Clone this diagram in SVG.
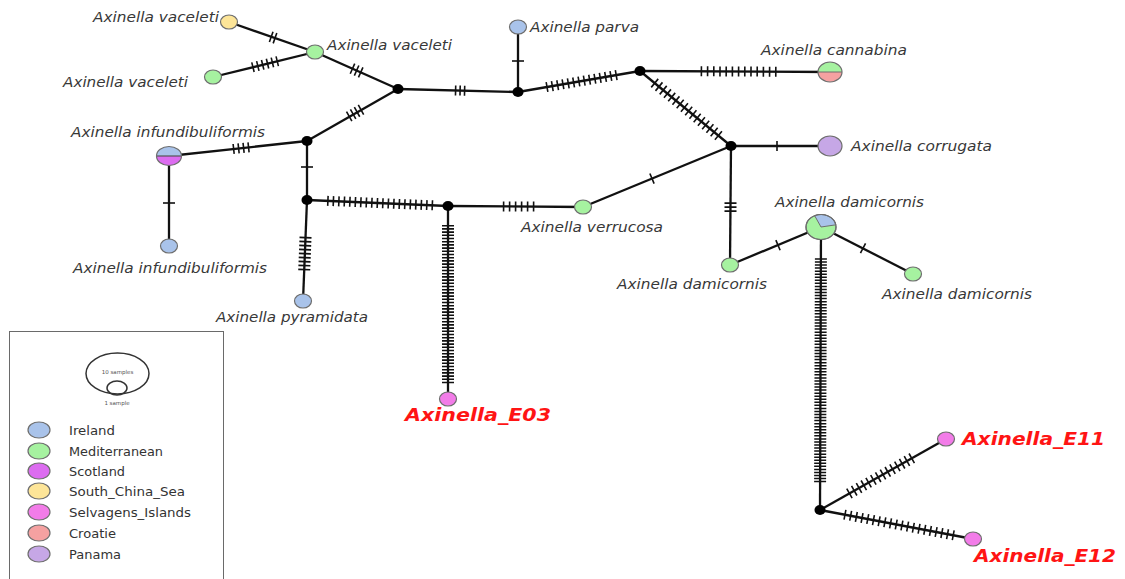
<svg xmlns="http://www.w3.org/2000/svg" width="1125" height="579" viewBox="0 0 1125 579">
  <style>
    .ln { stroke: #111; stroke-width: 2.3; fill: none; }
    .tk { stroke: #111; stroke-width: 10; fill: none; stroke-linecap: butt; }
    .tkd { stroke: #111; stroke-width: 11; fill: none; stroke-linecap: butt; }
    .tkv { stroke: #111; stroke-width: 12; fill: none; stroke-linecap: butt; }
    .nd { stroke: #6e6e6e; stroke-width: 1.2; }
    .jn { fill: #000; }
    .lb { font-family: "DejaVu Sans", "Noto Sans", sans-serif; font-style: italic; font-size: 14px; fill: #383838; }
    .rd { font-family: "DejaVu Sans", "Noto Sans", sans-serif; font-style: italic; font-weight: bold; font-size: 18px; fill: #ff1414; }
    .lg { font-family: "DejaVu Sans", "Noto Sans", sans-serif; font-size: 12px; fill: #333; }
    .sm { font-family: "DejaVu Sans", "Noto Sans", sans-serif; font-size: 5.5px; fill: #555; text-anchor: middle; }
    .ire { fill: #a9c3ea; }
    .med { fill: #a6f2a0; }
    .sco { fill: #dc6cf0; }
    .scs { fill: #fde598; }
    .sel { fill: #f27ce8; }
    .cro { fill: #f5a1a1; }
    .pan { fill: #c6a7e6; }
  </style>

  <rect width="1125" height="579" fill="#fff"/>

  <!-- connectors: branch line plus mutation ticks -->
  <g id="connectors">
    <g id="e-vacY-vacC">
      <line class="ln" x1="229" y1="22" x2="315" y2="52"/>
      <line class="tkd" x1="270.45" y1="36.61" x2="275.75" y2="38.46" stroke-dasharray="1.6 2.4"/>
    </g>
    <g id="e-vacL-vacC">
      <line class="ln" x1="213" y1="77" x2="315" y2="52"/>
      <line class="tk" x1="252.18" y1="67.39" x2="278" y2="61.07" stroke-dasharray="1.6 3.4"/>
    </g>
    <g id="e-vacC-J1">
      <line class="ln" x1="315" y1="52" x2="398" y2="89"/>
      <line class="tkd" x1="351.75" y1="68.38" x2="361.45" y2="72.71" stroke-dasharray="1.6 2.9"/>
    </g>
    <g id="e-J5-J1">
      <line class="ln" x1="307" y1="141" x2="398" y2="89"/>
      <line class="tkd" x1="348.5" y1="116.74" x2="361.7" y2="109.36" stroke-dasharray="1.6 2.9"/>
    </g>
    <g id="e-J1-J2">
      <line class="ln" x1="398" y1="89" x2="518" y2="92"/>
      <line class="tk" x1="454.8" y1="90.42" x2="465.4" y2="90.68" stroke-dasharray="1.6 2.9"/>
    </g>
    <g id="e-parva-J2">
      <line class="ln" x1="518" y1="27" x2="518" y2="92"/>
      <line class="tkv" x1="518" y1="60.2" x2="518" y2="61.8"/>
    </g>
    <g id="e-J2-J3">
      <line class="ln" x1="518" y1="92" x2="640" y2="71"/>
      <line class="tk" x1="546.22" y1="87.14" x2="616.98" y2="74.97" stroke-dasharray="1.6 3.8"/>
    </g>
    <g id="e-J3-cannabina">
      <line class="ln" x1="640" y1="71" x2="830" y2="72"/>
      <line class="tk" x1="700.6" y1="71.3" x2="776.6" y2="71.7" stroke-dasharray="1.6 4.6"/>
    </g>
    <g id="e-J3-J4">
      <line class="ln" x1="640" y1="71" x2="731" y2="146"/>
      <line class="tkd" x1="654.11" y1="82.62" x2="719.05" y2="136.11" stroke-dasharray="1.6 3.9"/>
    </g>
    <g id="e-J4-corrugata">
      <line class="ln" x1="731" y1="146" x2="830" y2="146"/>
      <line class="tk" x1="776.2" y1="146" x2="777.8" y2="146"/>
    </g>
    <g id="e-infB-J5">
      <line class="ln" x1="169" y1="156" x2="307" y2="141"/>
      <line class="tk" x1="232.85" y1="149.06" x2="249.35" y2="147.26" stroke-dasharray="1.6 3.4"/>
    </g>
    <g id="e-infB-infS">
      <line class="ln" x1="169" y1="156" x2="169" y2="246"/>
      <line class="tkv" x1="169" y1="202.2" x2="169" y2="203.8"/>
    </g>
    <g id="e-J5-J6">
      <line class="ln" x1="307" y1="141" x2="307" y2="200"/>
      <line class="tkv" x1="307" y1="166.2" x2="307" y2="167.8"/>
    </g>
    <g id="e-J6-pyramidata">
      <line class="ln" x1="307" y1="200" x2="303" y2="301"/>
      <line class="tkv" x1="305.54" y1="236.81" x2="304.21" y2="270.39" stroke-dasharray="1.6 2.4"/>
    </g>
    <g id="e-J6-J7">
      <line class="ln" x1="307" y1="200" x2="448" y2="206"/>
      <line class="tk" x1="327.1" y1="200.85" x2="433.1" y2="205.36" stroke-dasharray="1.6 3.9"/>
    </g>
    <g id="e-J7-verrucosa">
      <line class="ln" x1="448" y1="206" x2="583" y2="207"/>
      <line class="tk" x1="502.8" y1="206.4" x2="534.4" y2="206.6" stroke-dasharray="1.6 4.4"/>
    </g>
    <g id="e-verrucosa-J4">
      <line class="ln" x1="583" y1="207" x2="731" y2="146"/>
      <line class="tkd" x1="651.26" y1="178.91" x2="652.74" y2="178.29"/>
    </g>
    <g id="e-J4-damL">
      <line class="ln" x1="731" y1="146" x2="730" y2="265"/>
      <line class="tkv" x1="730.5" y1="202.3" x2="730.5" y2="211.9" stroke-dasharray="1.6 2.4"/>
    </g>
    <g id="e-damL-damB">
      <line class="ln" x1="730" y1="265" x2="821" y2="227"/>
      <line class="tkd" x1="777.26" y1="245.51" x2="778.74" y2="244.89"/>
    </g>
    <g id="e-damB-damR">
      <line class="ln" x1="821" y1="227" x2="913" y2="274"/>
      <line class="tkd" x1="862.29" y1="247.83" x2="863.71" y2="248.57"/>
    </g>
    <g id="e-J7-E03">
      <line class="ln" x1="448" y1="206" x2="448" y2="399"/>
      <line class="tkv" x1="448" y1="224.9" x2="448" y2="383.3" stroke-dasharray="1.6 1.6"/>
    </g>
    <g id="e-damB-J8">
      <line class="ln" x1="821" y1="227" x2="820" y2="510"/>
      <line class="tkv" x1="820.9" y1="258.2" x2="820.1" y2="482.5" stroke-dasharray="1.5 1.55"/>
    </g>
    <g id="e-J8-E11">
      <line class="ln" x1="820" y1="510" x2="946" y2="439"/>
      <line class="tkd" x1="848.74" y1="493.8" x2="912.44" y2="457.9" stroke-dasharray="1.6 3.9"/>
    </g>
    <g id="e-J8-E12">
      <line class="ln" x1="820" y1="510" x2="973" y2="539"/>
      <line class="tk" x1="844.17" y1="514.58" x2="954.03" y2="535.4" stroke-dasharray="1.6 4.2"/>
    </g>
  </g>

  <!-- median vectors -->
  <g id="J1"><ellipse class="jn" cx="398" cy="89" rx="5.5" ry="5"/></g>
  <g id="J2"><ellipse class="jn" cx="518" cy="92" rx="5.5" ry="5"/></g>
  <g id="J3"><ellipse class="jn" cx="640" cy="71" rx="5.5" ry="5"/></g>
  <g id="J4"><ellipse class="jn" cx="731" cy="146" rx="5.5" ry="5"/></g>
  <g id="J5"><ellipse class="jn" cx="307" cy="141" rx="5.5" ry="5"/></g>
  <g id="J6"><ellipse class="jn" cx="307" cy="200" rx="5.5" ry="5"/></g>
  <g id="J7"><ellipse class="jn" cx="448" cy="206" rx="5.5" ry="5"/></g>
  <g id="J8"><ellipse class="jn" cx="820" cy="510" rx="5.5" ry="5"/></g>

  <!-- haplotypes -->
  <g id="vaceleti-scs">
    <ellipse class="nd scs" cx="229" cy="22" rx="8.5" ry="7"/>
    <text class="lb" x="93" y="22" textLength="126" lengthAdjust="spacingAndGlyphs">Axinella vaceleti</text>
  </g>
  <g id="vaceleti-med-1">
    <ellipse class="nd med" cx="315" cy="52" rx="8.5" ry="7"/>
    <text class="lb" x="327" y="50" textLength="125" lengthAdjust="spacingAndGlyphs">Axinella vaceleti</text>
  </g>
  <g id="vaceleti-med-2">
    <ellipse class="nd med" cx="213" cy="77" rx="8.5" ry="7"/>
    <text class="lb" x="63" y="87" textLength="125" lengthAdjust="spacingAndGlyphs">Axinella vaceleti</text>
  </g>
  <g id="parva">
    <ellipse class="nd ire" cx="518" cy="27" rx="8.5" ry="7"/>
    <text class="lb" x="530" y="32" textLength="109" lengthAdjust="spacingAndGlyphs">Axinella parva</text>
  </g>
  <g id="cannabina">
    <path class="med" d="M818,72 A12,10 0 0,1 842,72 Z"/>
    <path class="cro" d="M818,72 A12,10 0 0,0 842,72 Z"/>
    <line x1="818" y1="72" x2="842" y2="72" stroke="#6e6e6e" stroke-width="1"/>
    <ellipse class="nd" cx="830" cy="72" rx="12" ry="10" fill="none"/>
    <text class="lb" x="761" y="55" textLength="146" lengthAdjust="spacingAndGlyphs">Axinella cannabina</text>
  </g>
  <g id="corrugata">
    <ellipse class="nd pan" cx="830" cy="146" rx="12" ry="10"/>
    <text class="lb" x="851" y="151" textLength="141" lengthAdjust="spacingAndGlyphs">Axinella corrugata</text>
  </g>
  <g id="infundibuliformis-1">
    <path class="ire" d="M156.5,156 A12.5,9.5 0 0,1 181.5,156 Z"/>
    <path class="sco" d="M156.5,156 A12.5,9.5 0 0,0 181.5,156 Z"/>
    <line x1="156.5" y1="156" x2="181.5" y2="156" stroke="#555" stroke-width="1.2"/>
    <ellipse class="nd" cx="169" cy="156" rx="12.5" ry="9.5" fill="none"/>
    <text class="lb" x="71" y="137" textLength="194" lengthAdjust="spacingAndGlyphs">Axinella infundibuliformis</text>
  </g>
  <g id="infundibuliformis-2">
    <ellipse class="nd ire" cx="169" cy="246" rx="8.5" ry="7"/>
    <text class="lb" x="73" y="273" textLength="194" lengthAdjust="spacingAndGlyphs">Axinella infundibuliformis</text>
  </g>
  <g id="pyramidata">
    <ellipse class="nd ire" cx="303" cy="301" rx="8.5" ry="7"/>
    <text class="lb" x="216" y="322" textLength="152" lengthAdjust="spacingAndGlyphs">Axinella pyramidata</text>
  </g>
  <g id="verrucosa">
    <ellipse class="nd med" cx="583" cy="207" rx="8.5" ry="7"/>
    <text class="lb" x="521" y="232" textLength="142" lengthAdjust="spacingAndGlyphs">Axinella verrucosa</text>
  </g>
  <g id="damicornis-1">
    <ellipse class="nd med" cx="821" cy="227" rx="15" ry="12.5"/>
    <path class="ire" d="M821,227 L814.66,215.67 A15,12.5 0 0,1 835.77,224.83 Z" stroke="#6e6e6e" stroke-width="1"/>
    <ellipse class="nd" cx="821" cy="227" rx="15" ry="12.5" fill="none"/>
    <text class="lb" x="775" y="207" textLength="149" lengthAdjust="spacingAndGlyphs">Axinella damicornis</text>
  </g>
  <g id="damicornis-2">
    <ellipse class="nd med" cx="730" cy="265" rx="8.5" ry="7"/>
    <text class="lb" x="617" y="289" textLength="150" lengthAdjust="spacingAndGlyphs">Axinella damicornis</text>
  </g>
  <g id="damicornis-3">
    <ellipse class="nd med" cx="913" cy="274" rx="8.5" ry="7"/>
    <text class="lb" x="882" y="299" textLength="150" lengthAdjust="spacingAndGlyphs">Axinella damicornis</text>
  </g>
  <g id="E03">
    <ellipse class="nd sel" cx="448" cy="399" rx="8.5" ry="7"/>
    <text class="rd" x="405" y="421" textLength="146" lengthAdjust="spacingAndGlyphs">Axinella_E03</text>
  </g>
  <g id="E11">
    <ellipse class="nd sel" cx="946" cy="439" rx="8.5" ry="7"/>
    <text class="rd" x="962" y="445" textLength="143" lengthAdjust="spacingAndGlyphs">Axinella_E11</text>
  </g>
  <g id="E12">
    <ellipse class="nd sel" cx="973" cy="539" rx="8.5" ry="7"/>
    <text class="rd" x="974" y="562" textLength="142" lengthAdjust="spacingAndGlyphs">Axinella_E12</text>
  </g>

  <!-- legend -->
  <g id="legend">
    <rect x="9.5" y="331.5" width="214" height="260" fill="#fff" stroke="#6a6a6a" stroke-width="1"/>
    <ellipse cx="117.5" cy="373.5" rx="31.5" ry="20.5" fill="none" stroke="#333" stroke-width="1.5"/>
    <ellipse cx="117" cy="388" rx="10" ry="7" fill="none" stroke="#333" stroke-width="1.5"/>
    <text class="sm" x="117.5" y="374">10 samples</text>
    <text class="sm" x="117" y="405">1 sample</text>

    <ellipse class="nd ire" cx="39" cy="430" rx="11" ry="8"/>
    <text class="lg" x="69" y="435" textLength="46" lengthAdjust="spacingAndGlyphs">Ireland</text>
    <ellipse class="nd med" cx="39" cy="451" rx="11" ry="8"/>
    <text class="lg" x="69" y="456" textLength="94" lengthAdjust="spacingAndGlyphs">Mediterranean</text>
    <ellipse class="nd sco" cx="39" cy="471" rx="11" ry="8"/>
    <text class="lg" x="69" y="476" textLength="56" lengthAdjust="spacingAndGlyphs">Scotland</text>
    <ellipse class="nd scs" cx="39" cy="491" rx="11" ry="8"/>
    <text class="lg" x="69" y="496" textLength="116" lengthAdjust="spacingAndGlyphs">South_China_Sea</text>
    <ellipse class="nd sel" cx="39" cy="512" rx="11" ry="8"/>
    <text class="lg" x="69" y="517" textLength="122" lengthAdjust="spacingAndGlyphs">Selvagens_Islands</text>
    <ellipse class="nd cro" cx="39" cy="533" rx="11" ry="8"/>
    <text class="lg" x="69" y="538" textLength="47" lengthAdjust="spacingAndGlyphs">Croatie</text>
    <ellipse class="nd pan" cx="39" cy="554" rx="11" ry="8"/>
    <text class="lg" x="69" y="559" textLength="52" lengthAdjust="spacingAndGlyphs">Panama</text>
  </g>
</svg>
